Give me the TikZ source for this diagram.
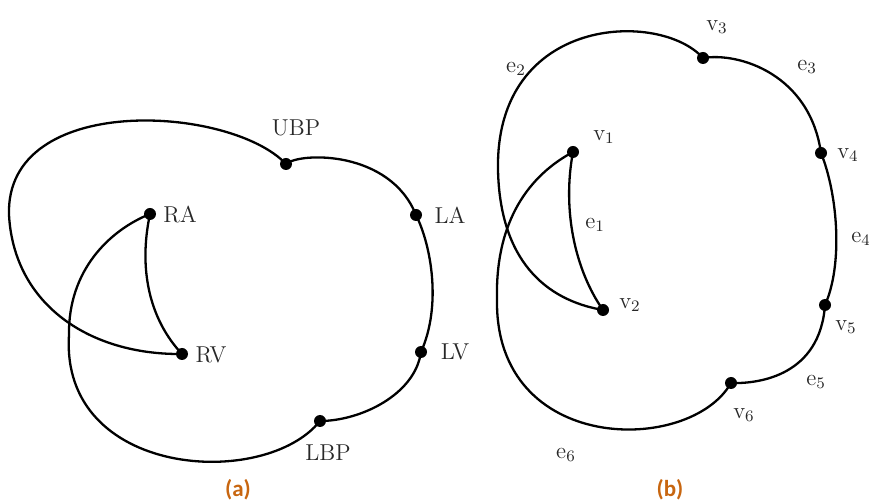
\documentclass[tikz,border=0pt]{standalone}
\usepackage{fontspec}
\newfontfamily\capfont{Carlito}
\definecolor{capcol}{RGB}{200,102,16}
\definecolor{lblcol}{RGB}{40,40,40}
\begin{document}
\begin{tikzpicture}[x=0.5pt,y=-0.5pt,
  vdot/.style={circle,fill=black,inner sep=0pt,minimum size=6pt},
  edge/.style={line width=1.15pt,black},
  lbl/.style={font=\fontsize{11.5}{14}\selectfont,text=lblcol,inner sep=0pt},
  captext/.style={font=\capfont\bfseries\fontsize{11.5}{13}\selectfont,text=capcol,inner sep=0pt}]
\useasboundingbox (0,0) rectangle (869,502);
% ---------- (a) ----------
\node[vdot] (UBP) at (286,164) {};
\node[vdot] (LA) at (416,215) {};
\node[vdot] (LV) at (421,352) {};
\node[vdot] (LBP) at (320,421) {};
\node[vdot] (RA) at (150,214) {};
\node[vdot] (RV) at (182,354) {};
\coordinate (aL1) at (9,215);
\coordinate (aL2) at (69,335);
\draw[edge] (UBP.center) .. controls (300,152) and (390,150) .. (LA.center);
\draw[edge] (LA.center) .. controls (431,245) and (442,305) .. (LV.center);
\draw[edge] (LV.center) .. controls (415,395) and (360,421) .. (LBP.center);
\draw[edge] (UBP.center) .. controls (230,105) and (5,92) .. (aL1)
  .. controls (14,305) and (90,355) .. (RV.center);
\draw[edge] (LBP.center) .. controls (265,490) and (60,478) .. (aL2)
  .. controls (68,270) and (110,230) .. (RA.center);
\draw[edge] (RA.center) .. controls (138,270) and (150,320) .. (RV.center);
\node[lbl] (tUBP) at (296,128) {UBP};
\node[lbl] (tRA) at (180,215) {RA};
\node[lbl] (tRV) at (211,355) {RV};
\node[lbl] (tLA) at (450,215) {LA};
\node[lbl] (tLV) at (455,352) {LV};
\node[lbl] (tLBP) at (328,453) {LBP};
\node[captext] (capa) at (238,490) {(a)};
% ---------- (b) ----------
\node[vdot] (v1) at (573,152) {};
\node[vdot] (v2) at (603,310) {};
\node[vdot] (v3) at (703,58) {};
\node[vdot] (v4) at (821,153) {};
\node[vdot] (v5) at (825,305) {};
\node[vdot] (v6) at (731,383) {};
\coordinate (bL1) at (498,170);
\coordinate (bL2) at (497,300);
\draw[edge] (v3.center) .. controls (740,52) and (810,75) .. (v4.center);
\draw[edge] (v4.center) .. controls (838,195) and (843,265) .. (v5.center);
\draw[edge] (v5.center) .. controls (820,375) and (760,384) .. (v6.center);
\draw[edge] (v3.center) .. controls (660,10) and (495,15) .. (bL1)
  .. controls (500,260) and (545,300) .. (v2.center);
\draw[edge] (v6.center) .. controls (690,455) and (495,455) .. (bL2)
  .. controls (495,220) and (530,175) .. (v1.center);
\draw[edge] (v1.center) .. controls (562,210) and (575,270) .. (v2.center);
\node[lbl] (tv1) at (604,137) {v$_1$};
\node[lbl] (tv2) at (630,305) {v$_2$};
\node[lbl] (tv3) at (717,27) {v$_3$};
\node[lbl] (tv4) at (848,155) {v$_4$};
\node[lbl] (tv5) at (846,327) {v$_5$};
\node[lbl] (tv6) at (744,415) {v$_6$};
\node[lbl] (te1) at (595,225) {e$_1$};
\node[lbl] (te2) at (516,69) {e$_2$};
\node[lbl] (te3) at (807,67) {e$_3$};
\node[lbl] (te4) at (861,239) {e$_4$};
\node[lbl] (te5) at (816,382) {e$_5$};
\node[lbl] (te6) at (566,455) {e$_6$};
\node[captext] (capb) at (670,490) {(b)};
\end{tikzpicture}
\end{document}
